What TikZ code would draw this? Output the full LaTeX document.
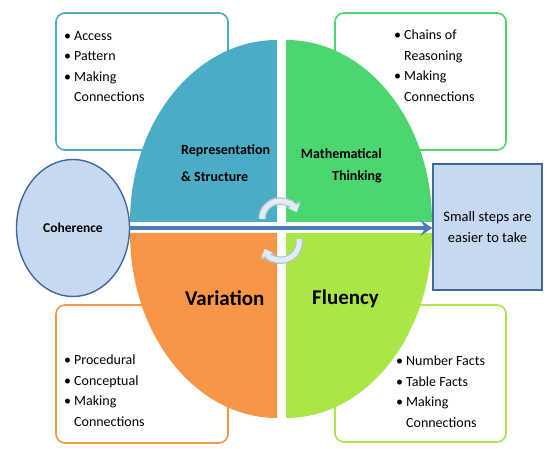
\documentclass[tikz,border=0pt]{standalone}
\usepackage{fontspec}
\setmainfont{Carlito}
\usetikzlibrary{shapes.geometric,arrows.meta}
\definecolor{quadteal}{HTML}{4BACC6}
\definecolor{quadgreen}{HTML}{4CD672}
\definecolor{quadorange}{HTML}{F79646}
\definecolor{quadlime}{HTML}{AAE646}
\definecolor{paleblue}{HTML}{C6D9F1}
\definecolor{darkblue}{HTML}{41679B}
\definecolor{linkblue}{HTML}{4A7EBB}
\definecolor{turnblue}{HTML}{E2ECF5}
\definecolor{turnedge}{HTML}{AFC4DA}
\def\lbul{\textbullet\hspace{3pt}}
\def\lgap{\hphantom{\lbul}}
\tikzset{
	listbox/.style={draw=#1, line width=1.6pt, rounded corners=9pt, fill=white},
	listtext/.style={anchor=north west, inner sep=0pt, align=left, font=\fontsize{14}{20.5}\selectfont},
	quadtitle/.style={inner sep=0pt, font=\bfseries\fontsize{14}{22}\selectfont},
	bigtitle/.style={anchor=base west, inner sep=0pt, font=\bfseries\fontsize{21}{24}\selectfont},
	turnedge/.style={line width=7.5pt, color=turnedge, -{Triangle[length=9pt,width=15pt]}},
	turn/.style={line width=5pt, color=turnblue, -{Triangle[length=7pt,width=12pt]}}
}

\begin{document}
\begin{tikzpicture}[x=1pt, y=1pt]
		%%%%% START %%%%%
		\useasboundingbox (0, 0) rectangle (548, 449);
		
		% boxes behind the quadrants
		\draw[listbox=quadteal] (56, 436) rectangle (228, 299);
		\draw[listbox=quadgreen] (335, 436) rectangle (506, 299);
		\draw[listbox=quadorange] (56, 144) rectangle (228, 6);
		\draw[listbox=quadlime] (335, 144) rectangle (506, 7);
		
		\node[listtext] (accesslist) at (64, 418) {\lbul Access\\ \lbul Pattern\\ \lbul Making\\ \lgap Connections};
		\node[listtext] (chainslist) at (394, 419) {\lbul Chains of\\ \lgap Reasoning\\ \lbul Making\\ \lgap Connections};
		\node[listtext] (procedurallist) at (64, 94) {\lbul Procedural\\ \lbul Conceptual\\ \lbul Making\\ \lgap Connections};
		\node[listtext] (factslist) at (396, 93) {\lbul Number Facts\\ \lbul Table Facts\\ \lbul Making\\ \lgap Connections};
		
		% the four quarters
		\fill[quadteal] (277, 227) -- ++(-147, 0) arc (180:90:147pt and 182pt) -- cycle;
		\fill[quadgreen] (286, 227) -- ++(146, 0) arc (0:90:146pt and 182pt) -- cycle;
		\fill[quadorange] (277, 216) -- ++(-147, 0) arc (180:270:147pt and 185pt) -- cycle;
		\fill[quadlime] (286, 216) -- ++(146, 0) arc (0:-90:146pt and 185pt) -- cycle;
		
		\node[quadtitle, anchor=north west, align=left, font=\bfseries\fontsize{14}{27}\selectfont] (reptitle) at (181, 305) {Representation\\ \& Structure};
		\node[quadtitle, anchor=north east, align=right] (maththitle) at (382, 301) {Mathematical\\ Thinking};
		\node[bigtitle] (vartitle) at (185, 143) {Variation};
		\node[bigtitle] (flutitle) at (312, 144) {Fluency};
		
		% turning arrows
		\draw[turnedge] (262, 230) arc (180:22:18pt);
		\draw[turn] (262, 230) arc (180:22:18pt);
		\draw[turnedge] (299, 210) arc (10:-158:18pt);
		\draw[turn] (299, 210) arc (10:-158:18pt);
		
		\node[ellipse, draw=darkblue, line width=1.4pt, fill=paleblue, minimum width=113, minimum height=137, inner sep=0pt, font=\bfseries\fontsize{13.5}{15}\selectfont] (coherence) at (73, 221) {Coherence};
		\node[rectangle, draw=darkblue, line width=1.4pt, fill=paleblue, minimum width=109, minimum height=126, inner sep=0pt, align=center, font=\fontsize{14.5}{21}\selectfont] (steps) at (487.5, 222) {Small steps are\\ easier to take};
		
		\draw[linkblue, line width=3.5pt, -{Stealth[length=12pt,width=16pt,inset=5pt]}] (coherence.east) -- (coherence.east -| steps.west);
		%%%%% END %%%%%
	\end{tikzpicture}
\end{document}
